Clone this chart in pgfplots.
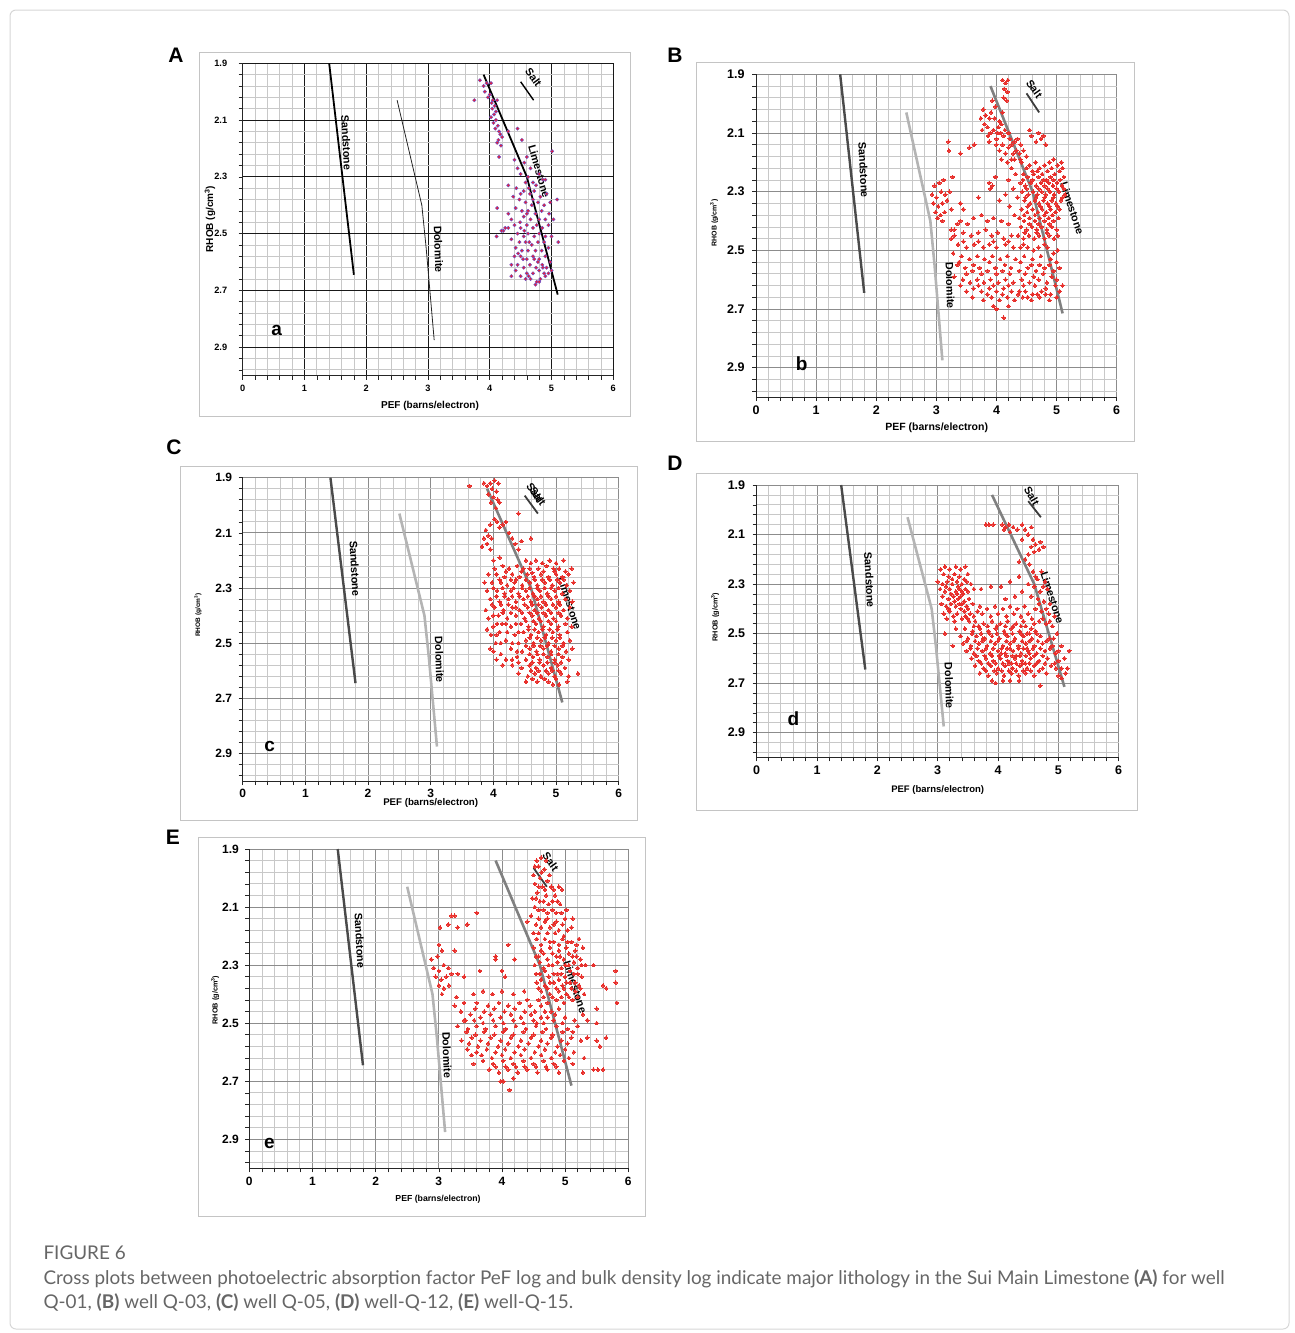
\documentclass[border=0pt]{standalone}
\usepackage{fontspec}
\setmainfont{Liberation Sans}
\newfontfamily\capfont{Lato}
\usepackage{pgfplots}
\pgfplotsset{compat=1.18}
\definecolor{majg}{HTML}{8C8C8C}
\definecolor{ming}{HTML}{C8C8C8}
\definecolor{ptred}{HTML}{E8302C}
\definecolor{frameg}{HTML}{C4C4C4}
\definecolor{capg}{HTML}{666666}
\definecolor{sandg}{HTML}{4A4A4A}
\definecolor{dolog}{HTML}{B4B4B4}
\definecolor{limeg}{HTML}{808080}
\definecolor{saltg}{HTML}{3C3C3C}
\pgfplotsset{
 panel/.style={
  scale only axis, anchor=north west, clip=false,
  xmin=0,xmax=6,ymin=1.9,ymax=3.0,y dir=reverse,
  xtick={0,1,2,3,4,5,6}, xticklabels={0,1,2,3,4,5,6},
  minor xtick={0.2,0.4,0.6,0.8,1.2,1.4,1.6,1.8,2.2,2.4,2.6,2.8,3.2,3.4,3.6,3.8,4.2,4.4,4.6,4.8,5.2,5.4,5.6,5.8},
  ytick={1.9,2.1,2.3,2.5,2.7,2.9}, yticklabels={1.9,2.1,2.3,2.5,2.7,2.9},
  minor ytick={1.94,1.98,2.02,2.06,2.14,2.18,2.22,2.26,2.34,2.38,2.42,2.46,2.54,2.58,2.62,2.66,2.74,2.78,2.82,2.86,2.94,2.98},
  grid=both,
  axis line style={draw=none},
  tick style={draw=black!85, line width=0.6pt},
  major tick length=4pt, minor tick length=4pt,
  tick align=outside, xtick pos=left, ytick pos=left,
  minor grid style={draw=ming, line width=0.7pt},
 },
 gridA/.style={major grid style={draw=black!90, line width=0.9pt}},
 gridG/.style={major grid style={draw=majg, line width=0.9pt}},
 sandA/.style={draw=black, line width=1.8pt},
 doloA/.style={draw=black!85, line width=0.8pt},
 limeA/.style={draw=black, line width=1.8pt},
 saltA/.style={draw=black, line width=1.4pt},
 sandG/.style={draw=sandg, line width=2.4pt},
 doloG/.style={draw=dolog, line width=2.6pt},
 limeG/.style={draw=limeg, line width=2.6pt},
 saltG/.style={draw=saltg, line width=1.8pt},
 pts/.style={only marks, color=ptred, mark=*, mark size=1.8pt, mark options={draw=ptred, fill=ptred, line width=0pt}},
 ptsA/.style={only marks, color=ptred, mark=*, mark size=1.7pt, mark options={draw={rgb,255:red,110;green,80;blue,200}, line width=0.45pt, fill={rgb,255:red,232;green,30;blue,50}}},
}
\newcommand{\spines}{%
 \draw[black!85, line width=0.9pt] (axis cs:0,1.9) -- (axis cs:0,3.0) -- (axis cs:6,3.0);}
\newcommand{\lithlines}[1]{%
 \addplot[sand#1] coordinates {(1.40,1.90) (1.80,2.645)};
 \addplot[dolo#1] coordinates {(2.50,2.03) (2.90,2.40) (2.97,2.55) (3.03,2.70) (3.10,2.875)};
 \addplot[lime#1] coordinates {(3.90,1.94) (4.60,2.30) (5.10,2.715)};
 \addplot[salt#1] coordinates {(4.50,1.965) (4.71,2.03)};
}
\newcommand{\lbl}{\bfseries\fontsize{10.8}{12}\selectfont}
\begin{document}
\begin{tikzpicture}
\useasboundingbox (0pt,0pt) rectangle (1295pt,-1333pt);
\draw[frameg!70, line width=1pt, rounded corners=6pt] (10pt,-10pt) rectangle (1289pt,-1329pt);
% panel frames
\draw[frameg, line width=1pt] (199pt,-52pt) rectangle (630pt,-416pt);
\draw[frameg, line width=1pt] (696pt,-62pt) rectangle (1134pt,-441pt);
\draw[frameg, line width=1pt] (180pt,-466pt) rectangle (637pt,-820pt);
\draw[frameg, line width=1pt] (696pt,-473pt) rectangle (1137pt,-810pt);
\draw[frameg, line width=1pt] (198pt,-837pt) rectangle (645pt,-1216pt);
% panel letters
\foreach \L/\px/\py in {A/176/55,B/675/55,C/174/447,D/675/463,E/173/837}
  \node[font=\bfseries\fontsize{21}{24}\selectfont] at (\px pt,-\py pt) {\L};

% ================= A =================
\begin{axis}[panel, gridA, at={(242.7pt,-63.3pt)}, width=370.6pt, height=312.2pt,
  ticklabel style={font=\bfseries\fontsize{9.2}{11}\selectfont},
  xticklabel style={yshift=-2pt}, yticklabel style={xshift=-8pt}]
\addplot[ptsA] coordinates {
(3.84,1.96)(3.75,2.03)(3.90,1.98)(3.92,2.00)(3.95,1.97)(4.02,1.97)(3.97,2.02)(4.00,2.01)(4.03,2.04)(4.05,2.03)(4.08,2.05)(4.04,2.06)(4.07,2.08)(4.10,2.07)(4.02,2.09)(4.12,2.03)(4.06,2.11)(4.10,2.10)(4.13,2.12)(4.15,2.14)(4.09,2.13)(4.17,2.15)(4.14,2.17)(4.20,2.16)(4.12,2.18)(4.18,2.19)(4.30,2.14)(4.45,2.13)(4.52,2.17)(4.15,2.23)(4.40,2.24)(4.56,2.25)(5.01,2.21)
(4.45,2.27)(4.60,2.23)(4.62,2.30)(4.50,2.29)(4.58,2.32)(4.66,2.27)(4.70,2.32)(4.75,2.33)(4.80,2.29)(4.86,2.31)(4.90,2.31)(4.30,2.33)(4.43,2.34)(4.55,2.35)(4.65,2.36)(4.72,2.35)(4.82,2.37)(4.92,2.36)(5.09,2.38)(4.38,2.37)(4.48,2.38)(4.58,2.39)(4.68,2.40)(4.78,2.39)(4.88,2.40)(4.98,2.39)(4.42,2.41)(4.52,2.42)(4.62,2.42)(4.74,2.43)(4.84,2.42)(4.96,2.43)(4.12,2.41)(4.30,2.43)(4.35,2.45)(4.55,2.44)(4.66,2.45)(4.80,2.45)(4.90,2.45)(5.03,2.45)
(4.25,2.48)(4.22,2.49)(4.30,2.48)(4.40,2.47)(4.50,2.48)(4.60,2.47)(4.70,2.48)(4.76,2.47)(4.85,2.48)(4.95,2.47)(4.45,2.50)(4.55,2.51)(4.62,2.50)(4.72,2.51)(4.80,2.50)(4.90,2.51)(5.00,2.51)(4.19,2.49)(4.11,2.51)(4.35,2.52)(4.48,2.53)(4.58,2.53)(4.68,2.54)(4.78,2.53)(4.88,2.53)(5.11,2.53)(4.42,2.55)(4.52,2.56)(4.62,2.56)(4.74,2.56)(4.84,2.56)(4.95,2.55)(4.40,2.58)(4.50,2.58)(4.60,2.59)(4.70,2.58)(4.80,2.59)(4.90,2.58)(4.98,2.60)(4.35,2.61)(4.45,2.61)(4.55,2.62)(4.65,2.61)(4.75,2.62)(4.85,2.61)(4.92,2.62)(5.00,2.63)(4.42,2.63)(4.60,2.64)(4.70,2.64)(4.80,2.63)(4.88,2.64)(4.95,2.64)(4.35,2.65)(4.50,2.65)(4.58,2.66)(4.66,2.66)(4.76,2.67)(4.82,2.66)(4.90,2.65)(4.63,2.65)(4.74,2.68)(4.80,2.67)(4.86,2.62)(4.78,2.60)(4.72,2.59)(4.54,2.59)(4.46,2.57)(4.64,2.53)(4.56,2.49)(4.49,2.46)(4.60,2.43)(4.70,2.38)(4.50,2.36)(4.63,2.34)
};
\lithlines{A}
\spines
\node[font=\lbl, rotate=-87] at (axis cs:1.68,2.18) {Sandstone};
\node[font=\lbl, rotate=-88] at (axis cs:3.17,2.556) {Dolomite};
\node[font=\lbl, rotate=-74] at (axis cs:4.80,2.28) {Limestone};
\node[font=\lbl, rotate=-54] at (axis cs:4.71,1.95) {Salt};
\node[font=\bfseries\fontsize{19}{22}\selectfont] at (axis cs:0.55,2.84) {a};
\end{axis}
\node[font=\bfseries\fontsize{10}{12}\selectfont] at (430pt,-405.7pt) {PEF (barns/electron)};
\node[font=\bfseries\fontsize{10}{12}\selectfont, rotate=90] at (210pt,-219pt) {RHOB (g/cm\textsuperscript{3})};

% ================= B =================
\begin{axis}[panel, gridG, at={(756pt,-74.3pt)}, width=360.7pt, height=322.7pt,
  ticklabel style={font=\bfseries\fontsize{12.5}{14}\selectfont},
  xticklabel style={yshift=-1pt}, yticklabel style={xshift=-4pt}]
\addplot[pts] coordinates {
(4.10,1.92)(4.15,1.93)(4.19,1.92)(4.13,1.95)(4.18,1.96)(4.12,1.98)(4.17,1.99)(3.93,1.99)(3.98,2.01)(3.78,2.02)(3.82,2.04)(3.74,2.05)(3.88,2.05)(3.91,2.03)(3.80,2.07)(3.85,2.08)(3.76,2.09)(3.90,2.10)(3.95,2.09)(4.05,2.06)(4.08,2.07)(4.03,2.08)(4.07,2.10)(4.00,2.12)(4.12,2.11)(4.22,2.12)(3.88,2.13)(4.00,2.14)(4.10,2.14)(4.05,2.16)(4.15,2.17)(4.20,2.15)(4.25,2.14)(4.30,2.13)(4.35,2.12)(4.40,2.14)(4.28,2.17)(4.38,2.17)(4.45,2.16)(4.08,2.19)(4.18,2.20)(4.30,2.19)(4.42,2.20)(4.50,2.18)(3.88,2.27)(3.90,2.29)(3.93,2.28)
(4.55,2.09)(4.58,2.11)(4.70,2.10)(4.74,2.12)(4.78,2.11)(4.66,2.13)(4.82,2.14)
(3.20,2.13)(3.21,2.16)(3.40,2.17)(3.55,2.15)(3.63,2.14)(3.27,2.25)(3.70,2.32)
(4.55,2.21)(4.65,2.20)(4.72,2.22)(4.80,2.21)(4.88,2.20)(4.95,2.19)(5.02,2.21)(5.08,2.20)(4.60,2.23)(4.85,2.23)
(4.45,2.24)(4.52,2.25)(4.62,2.24)(4.70,2.25)(4.76,2.24)(4.83,2.26)(4.90,2.25)(4.97,2.24)(5.05,2.23)(5.12,2.25)
(4.40,2.27)(4.48,2.28)(4.57,2.27)(4.66,2.28)(4.74,2.27)(4.80,2.28)(4.87,2.27)(4.94,2.28)(5.01,2.27)(5.09,2.28)
(4.43,2.30)(4.53,2.31)(4.61,2.30)(4.68,2.31)(4.75,2.30)(4.82,2.31)(4.89,2.30)(4.96,2.31)(5.04,2.30)(5.14,2.31)
(4.47,2.33)(4.56,2.34)(4.64,2.33)(4.71,2.34)(4.78,2.33)(4.85,2.34)(4.92,2.33)(4.99,2.34)(5.07,2.33)
(4.42,2.36)(4.51,2.37)(4.60,2.36)(4.69,2.37)(4.76,2.36)(4.83,2.37)(4.90,2.36)(4.98,2.37)(5.05,2.36)
(4.38,2.39)(4.46,2.40)(4.55,2.39)(4.64,2.40)(4.72,2.39)(4.80,2.40)(4.87,2.39)(4.95,2.40)
(4.41,2.42)(4.50,2.43)(4.59,2.42)(4.67,2.43)(4.75,2.42)(4.84,2.43)(4.92,2.42)(5.00,2.43)
(4.36,2.45)(4.45,2.46)(4.54,2.45)(4.63,2.46)(4.71,2.45)(4.80,2.46)(4.88,2.45)(4.96,2.46)
(4.25,2.22)(4.32,2.24)(4.20,2.26)(4.28,2.29)(4.35,2.32)(4.22,2.35)(4.30,2.38)(4.15,2.31)(3.98,2.25)(4.05,2.33)
(3.40,2.40)(3.52,2.41)(3.62,2.39)(3.75,2.38)(3.85,2.40)(3.95,2.39)(4.08,2.40)(4.20,2.41)(3.30,2.43)(3.45,2.44)(3.58,2.45)(3.70,2.44)(3.82,2.43)(3.92,2.45)(4.02,2.44)(4.12,2.46)(4.25,2.45)(3.25,2.46)(3.36,2.48)(3.50,2.49)(3.63,2.48)(3.78,2.49)(3.88,2.48)(4.00,2.49)(4.15,2.48)(4.28,2.49)(4.40,2.49)(4.52,2.49)(4.70,2.49)(4.85,2.49)(5.02,2.50)
(3.28,2.51)(3.42,2.52)(3.55,2.53)(3.68,2.52)(3.80,2.53)(3.93,2.52)(4.06,2.53)(4.18,2.52)(4.32,2.53)(4.46,2.52)(4.60,2.53)(4.74,2.52)(4.90,2.53)(5.00,2.54)
(3.35,2.55)(3.48,2.56)(3.60,2.57)(3.72,2.56)(3.85,2.57)(3.98,2.56)(4.10,2.57)(4.24,2.56)(4.38,2.57)(4.52,2.56)(4.66,2.57)(4.80,2.56)(4.95,2.57)
(3.30,2.59)(3.44,2.60)(3.56,2.61)(3.68,2.60)(3.79,2.61)(3.90,2.60)(4.03,2.61)(4.15,2.60)(4.28,2.61)(4.42,2.60)(4.55,2.61)(4.70,2.60)(4.84,2.61)(5.00,2.60)(5.10,2.62)
(3.50,2.64)(3.62,2.63)(3.75,2.64)(3.88,2.63)(4.00,2.64)(4.12,2.63)(4.25,2.64)(4.36,2.65)(4.48,2.64)(4.60,2.65)(4.75,2.64)(4.90,2.65)(5.05,2.64)
(3.78,2.67)(3.92,2.66)(4.05,2.67)(4.18,2.66)(4.30,2.67)(4.44,2.66)(4.58,2.67)(4.72,2.66)(4.88,2.67)
(4.00,2.70)(4.12,2.73)(4.20,2.69)(3.95,2.69)
(2.97,2.28)(3.05,2.27)(3.12,2.26)(2.93,2.31)(3.00,2.32)(3.08,2.30)(3.15,2.31)(3.22,2.30)(2.95,2.34)(3.03,2.35)(3.10,2.34)(3.18,2.33)(3.25,2.36)(2.99,2.37)(3.07,2.38)(3.14,2.37)(3.02,2.39)(3.10,2.40)
(3.25,2.43)(3.30,2.45)(3.35,2.41)(3.40,2.34)(3.45,2.36)
(4.50,2.22)(4.68,2.23)(4.92,2.22)(5.10,2.22)(4.44,2.26)(4.60,2.26)(4.78,2.26)(4.95,2.26)(5.06,2.26)(4.50,2.29)(4.70,2.29)(4.85,2.29)(5.00,2.29)(5.12,2.29)(4.48,2.32)(4.66,2.32)(4.80,2.32)(4.95,2.32)(5.10,2.32)(4.52,2.35)(4.73,2.35)(4.88,2.35)(5.02,2.35)(4.46,2.38)(4.64,2.38)(4.80,2.38)(4.93,2.38)(5.03,2.39)(4.55,2.41)(4.70,2.41)(4.88,2.41)(4.47,2.44)(4.67,2.44)(4.84,2.44)(5.02,2.45)
(3.45,2.47)(3.70,2.47)(3.95,2.47)(4.20,2.47)(4.45,2.48)(4.62,2.50)(4.80,2.48)(4.95,2.51)(3.38,2.54)(3.62,2.55)(3.88,2.54)(4.14,2.55)(4.40,2.54)(4.58,2.55)(4.72,2.55)(4.88,2.55)(5.05,2.56)(3.50,2.58)(3.75,2.58)(4.00,2.58)(4.22,2.58)(4.48,2.58)(4.62,2.59)(4.78,2.58)(4.92,2.59)(3.40,2.62)(3.70,2.62)(3.95,2.62)(4.20,2.62)(4.45,2.62)(4.64,2.62)(4.82,2.63)(4.98,2.62)(3.60,2.66)(3.85,2.65)(4.10,2.65)(4.38,2.64)(4.52,2.66)(4.68,2.65)(4.82,2.65)(5.00,2.66)
(3.86,2.11)(4.02,2.10)(4.14,2.09)(3.97,2.05)(4.10,2.03)(4.20,2.10)(4.33,2.16)(4.25,2.19)(4.40,2.19)
};
\lithlines{G}
\spines
\node[font=\lbl, rotate=-87] at (axis cs:1.79,2.226) {Sandstone};
\node[font=\lbl, rotate=-88] at (axis cs:3.23,2.62) {Dolomite};
\node[font=\lbl, rotate=-72] at (axis cs:5.26,2.357) {Limestone};
\node[font=\lbl, rotate=-55] at (axis cs:4.63,1.95) {Salt};
\node[font=\bfseries\fontsize{19}{22}\selectfont] at (axis cs:0.76,2.885) {b};
\end{axis}
\node[font=\bfseries\fontsize{10.5}{12}\selectfont] at (936.7pt,-427.7pt) {PEF (barns/electron)};
\node[font=\bfseries\fontsize{7}{8}\selectfont, rotate=90] at (714pt,-223pt) {RHOB (g/cm\textsuperscript{3})};

% ================= C =================
\begin{axis}[panel, gridG, at={(242.7pt,-477.7pt)}, width=376pt, height=303.3pt,
  ticklabel style={font=\bfseries\fontsize{12}{14}\selectfont},
  xticklabel style={yshift=-1pt}, yticklabel style={xshift=-3pt}]
\addplot[pts] coordinates {
(3.62,1.93)(3.85,1.92)(3.90,1.93)(3.95,1.92)(4.02,1.91)(4.08,1.92)(3.98,1.94)(4.05,1.95)(3.92,1.96)(4.00,1.97)(4.07,1.98)(3.96,1.99)(4.10,1.99)(4.04,2.01)(4.40,2.03)(4.02,2.05)(4.06,2.06)(4.15,2.07)(4.20,2.06)(4.10,2.08)(3.95,2.07)(3.88,2.09)(3.92,2.11)(3.85,2.12)(3.97,2.12)(3.90,2.14)(3.82,2.15)(3.95,2.16)(4.25,2.10)(4.30,2.12)(4.35,2.14)(4.45,2.13)(4.60,2.12)(4.40,2.16)(4.00,2.20)(4.10,2.19)
(4.52,2.20)(4.60,2.21)(4.68,2.20)(4.78,2.21)(4.90,2.20)(5.00,2.21)(5.12,2.20)
(4.15,2.22)(4.25,2.23)(4.38,2.22)(4.48,2.23)(4.58,2.23)(4.72,2.23)(4.85,2.22)(4.96,2.23)(5.05,2.23)(5.25,2.23)
(3.92,2.25)(4.05,2.25)(4.18,2.26)(4.30,2.25)(4.42,2.26)(4.54,2.25)(4.65,2.26)(4.76,2.25)(4.88,2.26)(5.00,2.25)(5.10,2.26)(5.20,2.25)
(3.98,2.28)(4.12,2.28)(4.22,2.29)(4.34,2.28)(4.46,2.29)(4.58,2.28)(4.70,2.29)(4.82,2.28)(4.94,2.29)(5.06,2.28)(5.17,2.29)(5.28,2.28)
(3.90,2.31)(4.06,2.31)(4.18,2.32)(4.28,2.31)(4.40,2.32)(4.52,2.31)(4.63,2.32)(4.74,2.31)(4.86,2.32)(4.98,2.31)(5.10,2.32)(5.22,2.31)
(3.95,2.34)(4.10,2.35)(4.24,2.34)(4.36,2.35)(4.48,2.34)(4.60,2.35)(4.70,2.34)(4.80,2.35)(4.92,2.34)(5.04,2.35)(5.15,2.34)(5.26,2.35)
(4.02,2.37)(4.16,2.38)(4.30,2.37)(4.42,2.38)(4.55,2.37)(4.66,2.38)(4.77,2.37)(4.88,2.38)(5.00,2.37)(5.12,2.38)(5.22,2.37)
(3.92,2.41)(4.08,2.40)(4.22,2.41)(4.36,2.40)(4.50,2.41)(4.62,2.40)(4.73,2.41)(4.84,2.40)(4.96,2.41)(5.08,2.40)(5.18,2.41)
(4.00,2.44)(4.14,2.43)(4.28,2.44)(4.44,2.43)(4.56,2.44)(4.68,2.43)(4.80,2.44)(4.92,2.43)(5.04,2.44)(5.15,2.43)(5.25,2.44)
(3.96,2.47)(4.10,2.46)(4.34,2.47)(4.48,2.46)(4.60,2.47)(4.72,2.46)(4.84,2.47)(4.95,2.46)(5.06,2.47)(5.18,2.46)
(4.04,2.50)(4.20,2.49)(4.40,2.50)(4.52,2.49)(4.64,2.50)(4.76,2.49)(4.88,2.50)(5.00,2.49)(5.12,2.50)(5.22,2.49)
(4.00,2.53)(4.28,2.52)(4.46,2.53)(4.58,2.52)(4.69,2.53)(4.80,2.52)(4.92,2.53)(5.04,2.52)(5.16,2.53)(5.26,2.52)
(4.20,2.56)(4.38,2.55)(4.52,2.56)(4.63,2.55)(4.74,2.56)(4.86,2.55)(4.98,2.56)(5.10,2.55)(5.20,2.56)
(4.30,2.58)(4.45,2.59)(4.58,2.58)(4.68,2.59)(4.80,2.58)(4.92,2.59)(5.03,2.58)(5.14,2.59)(5.35,2.61)
(4.40,2.61)(4.55,2.62)(4.66,2.61)(4.76,2.62)(4.88,2.61)(4.98,2.62)(5.08,2.61)(5.20,2.62)
(4.52,2.64)(4.70,2.64)(4.82,2.63)(4.95,2.65)(5.05,2.65)(5.18,2.64)
(3.88,2.38)(3.90,2.45)(3.95,2.52)(4.05,2.56)(4.12,2.54)(4.15,2.58)(3.86,2.28)
(4.45,2.24)(4.62,2.245)(4.80,2.24)(4.98,2.24)(5.15,2.24)(4.36,2.27)(4.52,2.27)(4.66,2.27)(4.78,2.27)(4.90,2.27)(5.02,2.27)(5.12,2.27)(4.46,2.30)(4.58,2.30)(4.70,2.30)(4.82,2.30)(4.92,2.30)(5.04,2.30)(4.42,2.33)(4.55,2.33)(4.66,2.33)(4.76,2.33)(4.88,2.33)(5.00,2.33)(4.50,2.36)(4.62,2.36)(4.72,2.36)(4.84,2.36)(4.95,2.36)(5.06,2.36)(4.46,2.39)(4.58,2.39)(4.70,2.39)(4.80,2.39)(4.92,2.39)(5.04,2.39)(4.52,2.42)(4.64,2.42)(4.76,2.42)(4.88,2.42)(5.00,2.42)(4.56,2.45)(4.66,2.45)(4.78,2.45)(4.90,2.45)(5.02,2.45)(4.58,2.48)(4.70,2.48)(4.82,2.48)(4.94,2.48)(5.06,2.48)(4.52,2.51)(4.64,2.51)(4.75,2.51)(4.86,2.51)(4.98,2.51)(5.10,2.51)(4.58,2.54)(4.70,2.54)(4.80,2.54)(4.92,2.54)(5.04,2.54)(4.62,2.57)(4.74,2.57)(4.86,2.57)(4.98,2.57)(5.08,2.57)(4.60,2.60)(4.72,2.60)(4.84,2.60)(4.94,2.60)(5.04,2.60)(4.62,2.63)(4.76,2.62)(4.88,2.64)(5.00,2.63)
(4.02,2.23)(4.20,2.24)(4.10,2.27)(4.28,2.27)(4.00,2.30)(4.15,2.30)(4.32,2.30)(4.05,2.33)(4.18,2.33)(4.30,2.33)(3.98,2.36)(4.12,2.36)(4.24,2.36)(4.36,2.37)(4.00,2.40)(4.15,2.39)(4.28,2.39)(4.06,2.43)(4.20,2.43)(4.36,2.43)(4.05,2.47)(4.22,2.46)(4.40,2.46)(4.12,2.50)(4.30,2.50)(4.38,2.53)(4.30,2.56)(4.40,2.57)
};
\lithlines{G}
\spines
\node[font=\lbl, rotate=-87] at (axis cs:1.79,2.229) {Sandstone};
\node[font=\lbl, rotate=-88] at (axis cs:3.14,2.56) {Dolomite};
\node[font=\lbl, rotate=-72] at (axis cs:5.22,2.356) {Limestone};
\node[font=\lbl, rotate=-55] at (axis cs:4.66,1.955) {Salt};
\node[font=\lbl, rotate=-55] at (axis cs:4.71,1.968) {Salt};
\node[font=\bfseries\fontsize{19}{22}\selectfont] at (axis cs:0.43,2.873) {c};
\end{axis}
\node[font=\bfseries\fontsize{9.7}{11}\selectfont] at (430.7pt,-802.7pt) {PEF (barns/electron)};
\node[font=\bfseries\fontsize{6.5}{8}\selectfont, rotate=90] at (198pt,-615pt) {RHOB (g/cm\textsuperscript{3})};

% ================= D =================
\begin{axis}[panel, gridG, at={(756.7pt,-485pt)}, width=362pt, height=272.4pt,
  ticklabel style={font=\bfseries\fontsize{12.5}{14}\selectfont},
  xticklabel style={yshift=-1pt}, yticklabel style={xshift=-4pt}]
\addplot[pts] coordinates {
(3.80,2.06)(3.85,2.06)(3.92,2.06)(4.07,2.06)(4.12,2.07)(4.18,2.06)(4.25,2.07)(4.10,2.08)(4.20,2.09)(4.32,2.08)(4.40,2.06)(4.45,2.08)(4.55,2.07)(4.50,2.10)(4.40,2.12)(4.58,2.12)(4.62,2.14)(4.70,2.13)(4.55,2.15)(4.68,2.16)(4.75,2.15)(4.60,2.17)(4.50,2.18)(4.45,2.20)(4.35,2.21)(4.52,2.22)
(3.05,2.24)(3.12,2.23)(3.20,2.24)(3.30,2.23)(3.38,2.24)(3.46,2.23)(3.10,2.26)(3.18,2.27)(3.28,2.26)(3.36,2.27)(3.50,2.26)(3.00,2.29)(3.08,2.30)(3.16,2.29)(3.24,2.30)(3.32,2.29)(3.40,2.30)(3.48,2.29)(3.55,2.30)(3.04,2.32)(3.12,2.33)(3.20,2.32)(3.30,2.33)(3.36,2.32)(3.42,2.34)(3.50,2.33)(3.60,2.32)(3.08,2.35)(3.18,2.36)(3.26,2.35)(3.34,2.36)(3.38,2.35)(3.44,2.37)(3.52,2.36)(3.06,2.38)(3.14,2.39)(3.22,2.38)(3.30,2.39)(3.40,2.38)(3.48,2.39)(3.58,2.38)(3.10,2.42)(3.20,2.41)(3.32,2.42)(3.44,2.41)(3.54,2.42)(3.66,2.41)(3.15,2.44)(3.28,2.45)(3.40,2.44)(3.52,2.45)
(4.58,2.25)(4.72,2.25)(4.65,2.28)(4.78,2.29)(4.50,2.30)(4.60,2.31)(4.70,2.33)(4.82,2.32)(4.55,2.35)(4.66,2.36)(4.76,2.37)(4.86,2.38)(4.62,2.40)(4.72,2.41)(4.84,2.42)(4.94,2.43)(4.56,2.44)(4.68,2.45)(4.80,2.46)(4.90,2.47)
(4.35,2.27)(4.20,2.29)(4.05,2.31)(3.88,2.31)(3.72,2.32)(4.40,2.33)(4.28,2.35)(4.12,2.36)
(3.70,2.39)(3.82,2.40)(3.95,2.39)(4.08,2.40)(4.20,2.39)(4.32,2.40)(4.44,2.39)
(3.74,2.42)(3.88,2.43)(4.00,2.42)(4.14,2.43)(4.26,2.42)(4.38,2.43)(4.50,2.42)
(3.62,2.45)(3.76,2.46)(3.90,2.45)(4.04,2.46)(4.16,2.45)(4.30,2.46)(4.42,2.45)(4.55,2.48)
(3.30,2.48)(3.45,2.48)(3.58,2.49)(3.70,2.48)(3.84,2.49)(3.96,2.48)(4.10,2.49)(4.22,2.48)(4.36,2.49)(4.48,2.50)(4.62,2.49)(4.98,2.50)
(3.12,2.50)(3.38,2.51)(3.50,2.52)(3.64,2.51)(3.78,2.52)(3.90,2.51)(4.02,2.52)(4.16,2.51)(4.28,2.52)(4.42,2.51)(4.56,2.52)(4.70,2.51)(4.85,2.52)
(3.25,2.55)(3.42,2.54)(3.55,2.55)(3.68,2.54)(3.82,2.55)(3.95,2.54)(4.08,2.55)(4.20,2.54)(4.34,2.55)(4.46,2.54)(4.60,2.55)(4.74,2.54)(4.90,2.55)(5.05,2.55)
(3.48,2.57)(3.60,2.58)(3.74,2.57)(3.87,2.58)(4.00,2.57)(4.12,2.58)(4.25,2.57)(4.38,2.58)(4.50,2.57)(4.64,2.58)(4.78,2.57)(4.95,2.58)(5.18,2.57)
(3.56,2.60)(3.68,2.61)(3.80,2.60)(3.92,2.61)(4.04,2.60)(4.16,2.61)(4.28,2.60)(4.40,2.61)(4.54,2.60)(4.68,2.61)(4.82,2.60)(5.00,2.61)
(3.62,2.63)(3.76,2.64)(3.88,2.63)(4.00,2.64)(4.12,2.63)(4.24,2.64)(4.36,2.63)(4.48,2.64)(4.60,2.63)(4.74,2.64)(4.88,2.63)(5.05,2.64)(5.15,2.64)
(3.70,2.66)(3.84,2.67)(3.98,2.66)(4.10,2.67)(4.22,2.66)(4.34,2.67)(4.46,2.66)(4.60,2.67)(4.80,2.66)(5.00,2.67)(5.12,2.66)
(3.90,2.69)(3.96,2.70)(4.08,2.69)(4.20,2.69)(4.35,2.69)(4.70,2.71)
(4.15,2.56)(4.30,2.59)(4.42,2.56)(4.22,2.62)(4.45,2.62)(4.05,2.58)(3.75,2.52)(3.60,2.47)(3.50,2.44)(4.46,2.47)(4.52,2.58)
(3.68,2.47)(3.83,2.47)(3.98,2.47)(4.12,2.47)(4.25,2.47)(4.38,2.47)(3.57,2.50)(3.72,2.50)(3.86,2.50)(3.98,2.50)(4.12,2.50)(4.24,2.50)(4.38,2.50)(4.52,2.50)(4.64,2.50)(3.48,2.53)(3.62,2.53)(3.74,2.53)(3.88,2.53)(4.00,2.53)(4.14,2.53)(4.26,2.53)(4.40,2.53)(4.52,2.53)(4.66,2.53)(4.80,2.53)(3.54,2.56)(3.66,2.56)(3.80,2.56)(3.92,2.56)(4.06,2.56)(4.20,2.56)(4.34,2.56)(4.48,2.56)(4.58,2.56)(4.70,2.56)(4.86,2.56)(3.64,2.59)(3.78,2.59)(3.90,2.59)(4.02,2.59)(4.14,2.59)(4.24,2.59)(4.36,2.59)(4.46,2.59)(4.60,2.59)(4.74,2.59)(3.72,2.62)(3.84,2.62)(3.96,2.62)(4.08,2.62)(4.18,2.62)(4.30,2.62)(4.40,2.62)(4.52,2.62)(4.64,2.62)(4.78,2.62)(4.94,2.62)(3.80,2.65)(3.94,2.65)(4.06,2.65)(4.18,2.65)(4.30,2.65)(4.42,2.65)(4.54,2.65)(4.68,2.65)
(3.24,2.28)(3.44,2.28)(3.14,2.31)(3.34,2.31)(3.46,2.32)(3.22,2.34)(3.32,2.34)(3.40,2.33)(3.28,2.37)(3.36,2.38)(3.18,2.40)(3.38,2.40)(3.50,2.40)(3.26,2.43)(3.46,2.43)(3.60,2.43)
(4.62,2.27)(4.75,2.31)(4.68,2.38)(4.80,2.40)(4.74,2.44)(4.86,2.45)(4.60,2.46)(4.92,2.52)(5.00,2.57)(5.10,2.60)(4.96,2.64)(5.05,2.68)
};
\lithlines{G}
\spines
\node[font=\lbl, rotate=-87] at (axis cs:1.87,2.284) {Sandstone};
\node[font=\lbl, rotate=-88] at (axis cs:3.19,2.71) {Dolomite};
\node[font=\lbl, rotate=-72] at (axis cs:4.90,2.355) {Limestone};
\node[font=\lbl, rotate=-60] at (axis cs:4.56,1.943) {Salt};
\node[font=\bfseries\fontsize{19}{22}\selectfont] at (axis cs:0.61,2.842) {d};
\end{axis}
\node[font=\bfseries\fontsize{9.5}{11}\selectfont] at (937.7pt,-790pt) {PEF (barns/electron)};
\node[font=\bfseries\fontsize{7.3}{8}\selectfont, rotate=90] at (715pt,-617pt) {RHOB (g/cm\textsuperscript{3})};

% ================= E =================
\begin{axis}[panel, gridG, at={(249.3pt,-849pt)}, width=379pt, height=319.3pt,
  ticklabel style={font=\bfseries\fontsize{12}{14}\selectfont},
  xticklabel style={yshift=-1pt}, yticklabel style={xshift=-3pt}]
\addplot[pts] coordinates {
(4.55,1.94)(4.62,1.93)(4.70,1.94)(4.58,1.96)(4.67,1.97)(4.50,1.99)(4.60,2.00)(4.75,1.99)(4.52,2.02)(4.64,2.03)(4.78,2.03)(4.90,2.03)(4.95,2.04)(4.56,2.05)(4.70,2.06)(4.84,2.06)(4.48,2.07)(4.60,2.08)(4.74,2.09)(4.88,2.08)(4.52,2.10)(4.66,2.11)(4.80,2.11)(4.94,2.12)(4.46,2.13)(4.58,2.14)(4.72,2.14)(4.86,2.15)(5.00,2.14)(5.12,2.14)(4.62,2.17)(4.76,2.17)(4.90,2.18)(5.04,2.18)(4.50,2.19)(4.40,2.15)
(4.55,2.21)(4.68,2.21)(4.82,2.22)(4.96,2.21)(5.10,2.22)(5.22,2.21)
(4.50,2.24)(4.62,2.25)(4.76,2.24)(4.90,2.25)(5.02,2.24)(5.16,2.25)(5.28,2.24)
(4.58,2.27)(4.72,2.28)(4.86,2.27)(4.98,2.28)(5.12,2.27)(5.24,2.28)
(4.52,2.30)(4.66,2.31)(4.80,2.30)(4.94,2.31)(5.06,2.30)(5.20,2.31)(5.32,2.30)
(4.60,2.33)(4.74,2.34)(4.88,2.33)(5.00,2.34)(5.14,2.33)(5.26,2.34)
(4.55,2.36)(4.68,2.37)(4.82,2.36)(4.96,2.37)(5.08,2.36)(5.22,2.37)
(4.62,2.39)(4.76,2.40)(4.90,2.39)(5.02,2.40)(5.16,2.39)(5.30,2.40)
(4.58,2.42)(4.72,2.43)(4.86,2.42)(4.98,2.43)(5.12,2.42)
(5.45,2.30)(5.80,2.32)(5.80,2.36)(5.60,2.37)(5.65,2.38)(5.82,2.43)(5.50,2.45)(5.35,2.49)(5.50,2.50)(5.35,2.55)(5.50,2.56)(5.65,2.55)(5.55,2.58)(5.30,2.62)(5.28,2.67)(5.45,2.66)(5.60,2.66)(5.52,2.66)
(2.88,2.28)(2.98,2.27)(3.05,2.25)(2.92,2.31)(3.00,2.32)(3.08,2.30)(3.15,2.31)(2.95,2.34)(3.04,2.35)(3.12,2.34)(3.20,2.33)(3.00,2.37)(3.08,2.38)(3.16,2.37)(3.05,2.40)(3.30,2.33)(3.40,2.34)
(3.20,2.13)(3.25,2.13)(3.15,2.16)(3.02,2.17)(3.30,2.17)(3.45,2.16)(3.60,2.12)(3.00,2.23)(3.25,2.25)(3.65,2.32)(3.90,2.27)(3.90,2.28)(4.10,2.23)(4.20,2.28)(4.00,2.32)(4.05,2.34)
(3.55,2.40)(3.70,2.39)(3.85,2.40)(4.00,2.39)(4.18,2.40)(4.35,2.39)(3.28,2.41)
(3.25,2.44)(3.40,2.43)(3.60,2.43)(3.78,2.44)(3.95,2.43)(4.10,2.44)(4.28,2.43)(4.45,2.44)
(3.50,2.47)(3.66,2.48)(3.82,2.47)(3.98,2.48)(4.14,2.47)(4.30,2.48)(4.46,2.47)(4.62,2.48)(5.00,2.48)(5.15,2.49)(5.28,2.47)
(3.30,2.51)(3.46,2.52)(3.60,2.51)(3.74,2.52)(3.90,2.51)(4.06,2.52)(4.22,2.51)(4.38,2.52)(4.54,2.51)(4.70,2.52)(4.86,2.51)(5.04,2.52)(5.20,2.51)
(3.36,2.56)(3.52,2.55)(3.66,2.56)(3.82,2.55)(3.98,2.56)(4.14,2.55)(4.30,2.56)(4.46,2.55)(4.62,2.56)(4.78,2.55)(4.94,2.56)(5.10,2.55)(5.25,2.56)
(3.45,2.59)(3.60,2.60)(3.76,2.59)(3.90,2.60)(4.05,2.59)(4.20,2.60)(4.36,2.59)(4.52,2.60)(4.68,2.59)(4.84,2.60)(5.00,2.59)(5.14,2.60)
(3.55,2.64)(3.70,2.63)(3.86,2.64)(4.02,2.63)(4.18,2.64)(4.34,2.63)(4.50,2.64)(4.66,2.63)(4.82,2.64)(4.98,2.63)(5.12,2.64)
(3.80,2.66)(3.95,2.67)(4.10,2.66)(4.25,2.67)(4.40,2.66)(4.56,2.67)(4.72,2.66)(4.90,2.67)
(3.98,2.70)(4.02,2.70)(4.12,2.73)(4.18,2.69)
(4.62,2.44)(4.78,2.46)(4.90,2.45)(4.40,2.42)(4.55,2.50)(4.72,2.48)(3.35,2.46)(3.42,2.49)
(4.52,1.96)(4.63,1.98)(4.72,2.01)(4.58,2.03)(4.68,2.04)(4.82,2.04)(4.54,2.07)(4.66,2.08)(4.80,2.08)(4.92,2.09)(4.58,2.11)(4.72,2.12)(4.86,2.12)(5.02,2.11)(4.54,2.16)(4.68,2.15)(4.82,2.16)(4.96,2.16)(5.10,2.17)(4.58,2.19)(4.72,2.19)(4.84,2.19)(4.98,2.20)
(4.62,2.23)(4.76,2.22)(4.90,2.23)(5.04,2.22)(5.18,2.23)(4.54,2.27)(4.66,2.26)(4.80,2.26)(4.92,2.27)(5.06,2.26)(5.18,2.27)(4.60,2.29)(4.74,2.30)(4.88,2.29)(5.00,2.30)(5.14,2.29)(5.26,2.30)(4.54,2.33)(4.68,2.32)(4.82,2.33)(4.94,2.33)(5.08,2.32)(5.20,2.33)(4.62,2.35)(4.76,2.36)(4.90,2.35)(5.02,2.36)(5.16,2.36)(4.58,2.38)(4.72,2.38)(4.86,2.38)(4.98,2.38)(5.10,2.38)(5.24,2.38)(4.66,2.41)(4.80,2.41)(4.94,2.41)(5.06,2.41)(5.20,2.41)
(3.58,2.45)(3.72,2.46)(3.88,2.45)(4.04,2.46)(4.20,2.45)(4.36,2.46)(4.52,2.46)(4.68,2.46)(4.84,2.47)(3.40,2.49)(3.56,2.49)(3.70,2.50)(3.86,2.49)(4.02,2.50)(4.18,2.49)(4.34,2.50)(4.50,2.49)(4.66,2.50)(4.82,2.49)(4.96,2.50)(3.44,2.53)(3.58,2.54)(3.72,2.53)(3.88,2.54)(4.02,2.53)(4.18,2.54)(4.34,2.53)(4.50,2.54)(4.64,2.53)(4.80,2.54)(4.96,2.53)(5.12,2.53)(3.48,2.57)(3.62,2.58)(3.78,2.57)(3.94,2.58)(4.10,2.57)(4.26,2.58)(4.42,2.57)(4.58,2.58)(4.72,2.57)(4.88,2.58)(5.04,2.57)(3.52,2.61)(3.68,2.61)(3.84,2.62)(4.00,2.61)(4.14,2.62)(4.30,2.61)(4.46,2.62)(4.62,2.61)(4.78,2.62)(4.92,2.61)(5.06,2.62)(3.90,2.65)(4.06,2.65)(4.22,2.65)(4.36,2.65)(4.54,2.65)(4.70,2.65)(4.86,2.65)
};
\lithlines{G}
\spines
\node[font=\lbl, rotate=-87] at (axis cs:1.75,2.216) {Sandstone};
\node[font=\lbl, rotate=-88] at (axis cs:3.13,2.61) {Dolomite};
\node[font=\lbl, rotate=-72] at (axis cs:5.16,2.375) {Limestone};
\node[font=\lbl, rotate=-55] at (axis cs:4.77,1.944) {Salt};
\node[font=\bfseries\fontsize{19}{22}\selectfont] at (axis cs:0.32,2.915) {e};
\end{axis}
\node[font=\bfseries\fontsize{8.7}{10}\selectfont] at (438pt,-1199pt) {PEF (barns/electron)};
\node[font=\bfseries\fontsize{7.3}{8}\selectfont, rotate=90] at (215pt,-1000pt) {RHOB (g/cm\textsuperscript{3})};

% caption
\node[anchor=base west, font=\capfont\fontsize{18.9}{22}\selectfont, text=capg] at (40pt,-1259pt) {FIGURE 6};
\node[anchor=base west, font=\capfont\fontsize{18.9}{22}\selectfont, text=capg] at (40pt,-1284pt) {Cross plots between photoelectric absorption factor PeF log and bulk density log indicate major lithology in the Sui Main Limestone \textbf{(A)} for well};
\node[anchor=base west, font=\capfont\fontsize{18.9}{22}\selectfont, text=capg] at (40pt,-1308pt) {Q-01, \textbf{(B)} well Q-03, \textbf{(C)} well Q-05, \textbf{(D)} well-Q-12, \textbf{(E)} well-Q-15.};
\end{tikzpicture}
\end{document}
